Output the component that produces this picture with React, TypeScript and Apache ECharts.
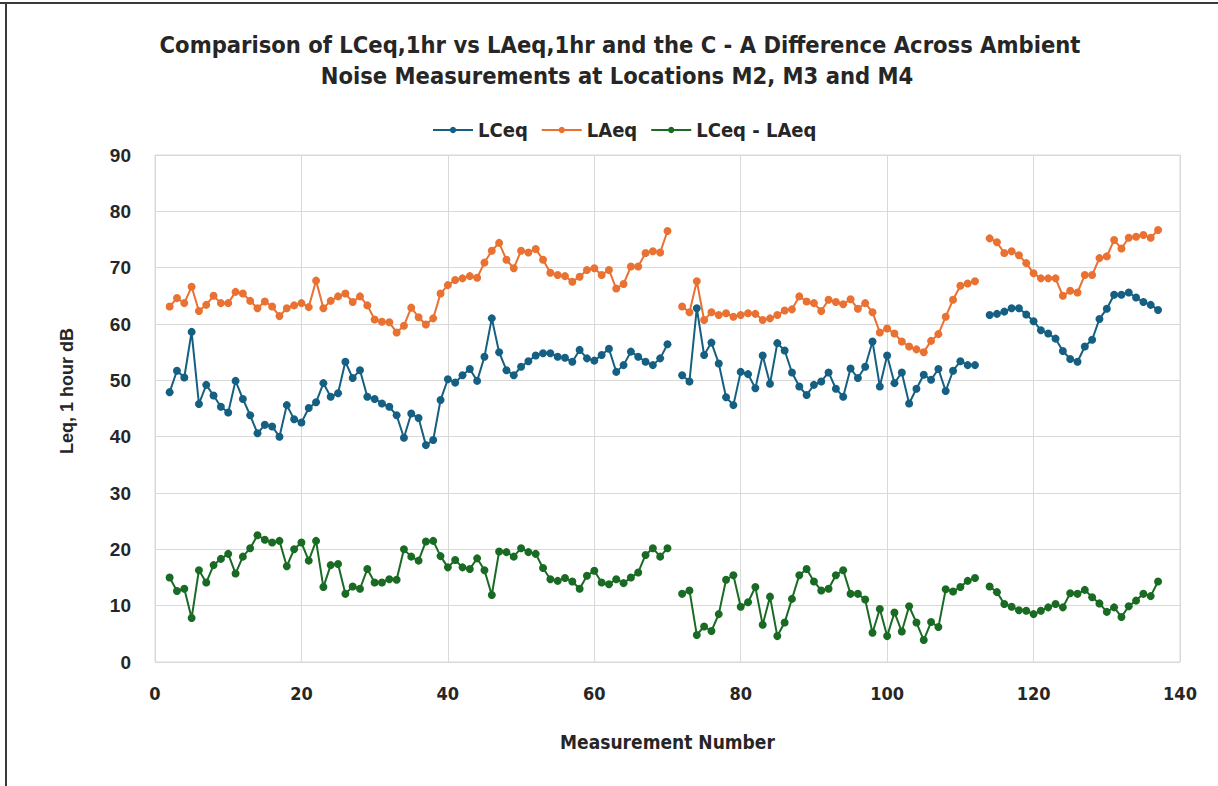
import React, { useEffect, useRef } from "react";
import * as echarts from "echarts";

// Measurement numbers: M2 = 2..70, M3 = 72..112, M4 = 114..137 (gaps at 71 and 113)
const segmentStarts = [2, 72, 114];

const lceqM2 = [47.9, 51.7, 50.5, 58.6, 45.8, 49.2, 47.3, 45.3, 44.3, 49.9, 46.7, 43.8, 40.6, 42.1, 41.8, 40.0, 45.6, 43.1, 42.5, 45.1, 46.1, 49.5, 47.1, 47.7, 53.3, 50.4, 51.8, 47.1, 46.7, 45.9, 45.3, 43.8, 39.8, 44.1, 43.3,
  38.5, 39.4, 46.5, 50.2, 49.6, 50.9, 52.0, 49.9, 54.2, 61.0, 55.0, 51.8, 50.9, 52.4, 53.4, 54.4, 54.8, 54.8, 54.2, 54.0, 53.3, 55.4, 53.9, 53.5, 54.5, 55.6, 51.5, 52.7, 55.1, 54.2, 53.3, 52.7, 53.9, 56.4];
const lceqM3 = [50.9, 49.8, 62.8, 54.5, 56.7, 53.0, 47.0, 45.6, 51.5, 51.1, 48.6, 54.4, 49.4, 56.6, 55.3, 51.4, 48.9, 47.4, 49.2, 49.8, 51.4, 48.5, 47.1, 52.1, 50.4, 52.4, 56.9, 48.9, 54.4, 49.5, 51.4, 45.9, 48.5,
  51.0, 50.1, 52.0, 48.1, 51.7, 53.4, 52.7, 52.7];
const lceqM4 = [61.6, 61.8, 62.2, 62.8, 62.8, 61.7, 60.5, 58.9, 58.3, 57.4, 55.2, 53.8, 53.3, 56.0, 57.2, 60.9, 62.7, 65.2, 65.2, 65.6, 64.7, 63.9, 63.4, 62.5];

const laeqM2 = [63.1, 64.6, 63.7, 66.6, 62.3, 63.4, 65.0, 63.7, 63.7, 65.7, 65.4, 64.1, 62.8, 64.0, 63.1, 61.4, 62.8, 63.3, 63.7, 63.0, 67.7, 62.8, 64.1, 64.9, 65.4, 63.9, 64.9, 63.3, 60.8, 60.4, 60.3, 58.5, 59.7, 62.9, 61.2,
  59.9, 61.0, 65.4, 66.9, 67.8, 68.1, 68.5, 68.2, 70.9, 73.0, 74.4, 71.4, 69.9, 73.0, 72.7, 73.3, 71.4, 69.1, 68.7, 68.5, 67.5, 68.4, 69.6, 69.9, 68.7, 69.6, 66.3, 67.1, 70.2, 70.2, 72.6, 72.9, 72.7, 76.5];
const laeqM3 = [63.1, 62.1, 67.6, 60.7, 62.1, 61.6, 61.9, 61.3, 61.6, 61.9, 61.8, 60.7, 61.0, 61.6, 62.4, 62.6, 64.9, 64.0, 63.7, 62.3, 64.3, 63.9, 63.5, 64.4, 62.7, 63.7, 62.1, 58.5, 59.2, 58.3, 56.9, 56.0, 55.5,
  55.0, 57.0, 58.2, 61.3, 64.3, 66.8, 67.2, 67.6];
const laeqM4 = [75.2, 74.5, 72.6, 72.9, 72.2, 70.8, 69.0, 68.1, 68.1, 68.1, 65.0, 65.9, 65.6, 68.7, 68.7, 71.7, 72.0, 74.9, 73.4, 75.3, 75.5, 75.8, 75.3, 76.7];

const diffM2 = [15.0, 12.6, 13.0, 7.8, 16.3, 14.1, 17.2, 18.3, 19.2, 15.7, 18.7, 20.2, 22.5, 21.7, 21.2, 21.5, 17.0, 20.0, 21.2, 18.0, 21.5, 13.3, 17.2, 17.4, 12.1, 13.4, 13.0, 16.5, 14.1, 14.1, 14.7, 14.6, 20.0, 18.7, 18.0,
  21.4, 21.5, 18.8, 16.8, 18.1, 16.8, 16.5, 18.4, 16.3, 11.9, 19.6, 19.5, 18.7, 20.2, 19.5, 19.2, 16.7, 14.7, 14.4, 14.9, 14.3, 13.0, 15.3, 16.2, 14.1, 13.8, 14.7, 14.0, 15.0, 15.9, 19.0, 20.2, 18.7, 20.2];
const diffM3 = [12.1, 12.7, 4.8, 6.3, 5.5, 8.5, 14.6, 15.4, 9.8, 10.6, 13.3, 6.6, 11.6, 4.6, 7.0, 11.2, 15.4, 16.5, 14.3, 12.7, 13.0, 15.4, 16.3, 12.1, 12.1, 11.1, 5.2, 9.4, 4.6, 8.8, 5.4, 9.9, 7.0,
  3.9, 7.1, 6.2, 12.9, 12.5, 13.3, 14.4, 14.9];
const diffM4 = [13.4, 12.4, 10.3, 9.8, 9.2, 9.1, 8.5, 9.1, 9.7, 10.3, 9.7, 12.2, 12.1, 12.8, 11.5, 10.4, 8.9, 9.7, 8.0, 9.9, 10.9, 12.1, 11.7, 14.3];

const xTicks = { min: 0, max: 140, interval: 20 };
const yTicks = { min: 0, max: 90, interval: 10 };

const titleLines = [
  "Comparison of LCeq,1hr vs LAeq,1hr and the C - A Difference Across Ambient",
  "Noise Measurements at Locations M2, M3 and M4",
];
const yAxisTitle = "Leq, 1 hour dB";

const NARROW = "'Liberation Sans Narrow', 'DejaVu Sans Condensed', 'Roboto Condensed', 'Liberation Sans', sans-serif";
const ARIAL = "'Liberation Sans', Arial, sans-serif";

function build(segments: number[][]): (number | string)[][] {
  const out: (number | string)[][] = [];
  segments.forEach((seg, i) => {
    const start = segmentStarts[i];
    seg.forEach((v, j) => out.push([start + j, v]));
    if (i < segments.length - 1) out.push([start + seg.length, "-"]);
  });
  return out;
}

export default function App() {
  const ref = useRef<HTMLDivElement>(null);
  useEffect(() => {
    if (!ref.current) return;
    const chart = echarts.init(ref.current, undefined, { renderer: "svg" });
    const mk = (name: string, color: string, data: (number | string)[][]) => ({
      name,
      type: "line",
      data,
      connectNulls: false,
      symbol: "circle",
      symbolSize: 8,
      lineStyle: { color, width: 2 },
      itemStyle: { color },
    });
    chart.setOption({
      animation: false,
      backgroundColor: "#ffffff",
      graphic: [
        { type: "line", shape: { x1: 0, y1: 3, x2: 1218, y2: 3 }, style: { stroke: "#3a3a3a", lineWidth: 2 } },
        { type: "line", shape: { x1: 6, y1: 3, x2: 6, y2: 786 }, style: { stroke: "#3a3a3a", lineWidth: 2 } },
        {
          type: "text", x: 620, y: 45,
          style: { text: titleLines[0], fill: "#262626", font: `bold 23.5px ${NARROW}`, textAlign: "center", textVerticalAlign: "middle" },
        },
        {
          type: "text", x: 617, y: 76,
          style: { text: titleLines[1], fill: "#262626", font: `bold 23.5px ${NARROW}`, textAlign: "center", textVerticalAlign: "middle" },
        },
        {
          type: "text", x: 67, y: 391, rotation: Math.PI / 2,
          style: { text: yAxisTitle, fill: "#262626", font: `bold 18px ${ARIAL}`, textAlign: "center", textVerticalAlign: "middle" },
        },
      ],
      legend: {
        top: 115,
        left: 427,
        itemWidth: 40,
        itemHeight: 8,
        itemGap: 13,
        textStyle: { fontFamily: NARROW, fontWeight: "bold", fontSize: 20, color: "#262626" },
        data: ["LCeq", "LAeq", "LCeq - LAeq"],
      },
      grid: {
        left: 155, right: 38, top: 155, bottom: 124,
        show: true, borderColor: "#d9d9d9", borderWidth: 1,
      },
      xAxis: {
        type: "value",
        ...xTicks,
        name: "Measurement Number",
        nameLocation: "middle",
        nameGap: 70,
        nameTextStyle: { fontFamily: NARROW, fontWeight: "bold", fontSize: 19, color: "#262626" },
        axisLine: { show: false },
        axisTick: { show: false },
        axisLabel: { margin: 22, fontFamily: NARROW, fontWeight: "bold", fontSize: 18, color: "#262626" },
        splitLine: { show: true, lineStyle: { color: "#d9d9d9", width: 1 } },
      },
      yAxis: {
        type: "value",
        ...yTicks,
        axisLine: { show: false },
        axisTick: { show: false },
        axisLabel: { margin: 24, fontFamily: ARIAL, fontWeight: "bold", fontSize: 19, color: "#262626" },
        splitLine: { show: true, lineStyle: { color: "#d9d9d9", width: 1 } },
      },
      series: [
        mk("LCeq", "#156082", build([lceqM2, lceqM3, lceqM4])),
        mk("LAeq", "#E97132", build([laeqM2, laeqM3, laeqM4])),
        mk("LCeq - LAeq", "#196B24", build([diffM2, diffM3, diffM4])),
      ],
    });
    return () => chart.dispose();
  }, []);
  return <div ref={ref} style={{ position: "fixed", left: 0, top: 0, width: 1218, height: 786 }} />;
}
